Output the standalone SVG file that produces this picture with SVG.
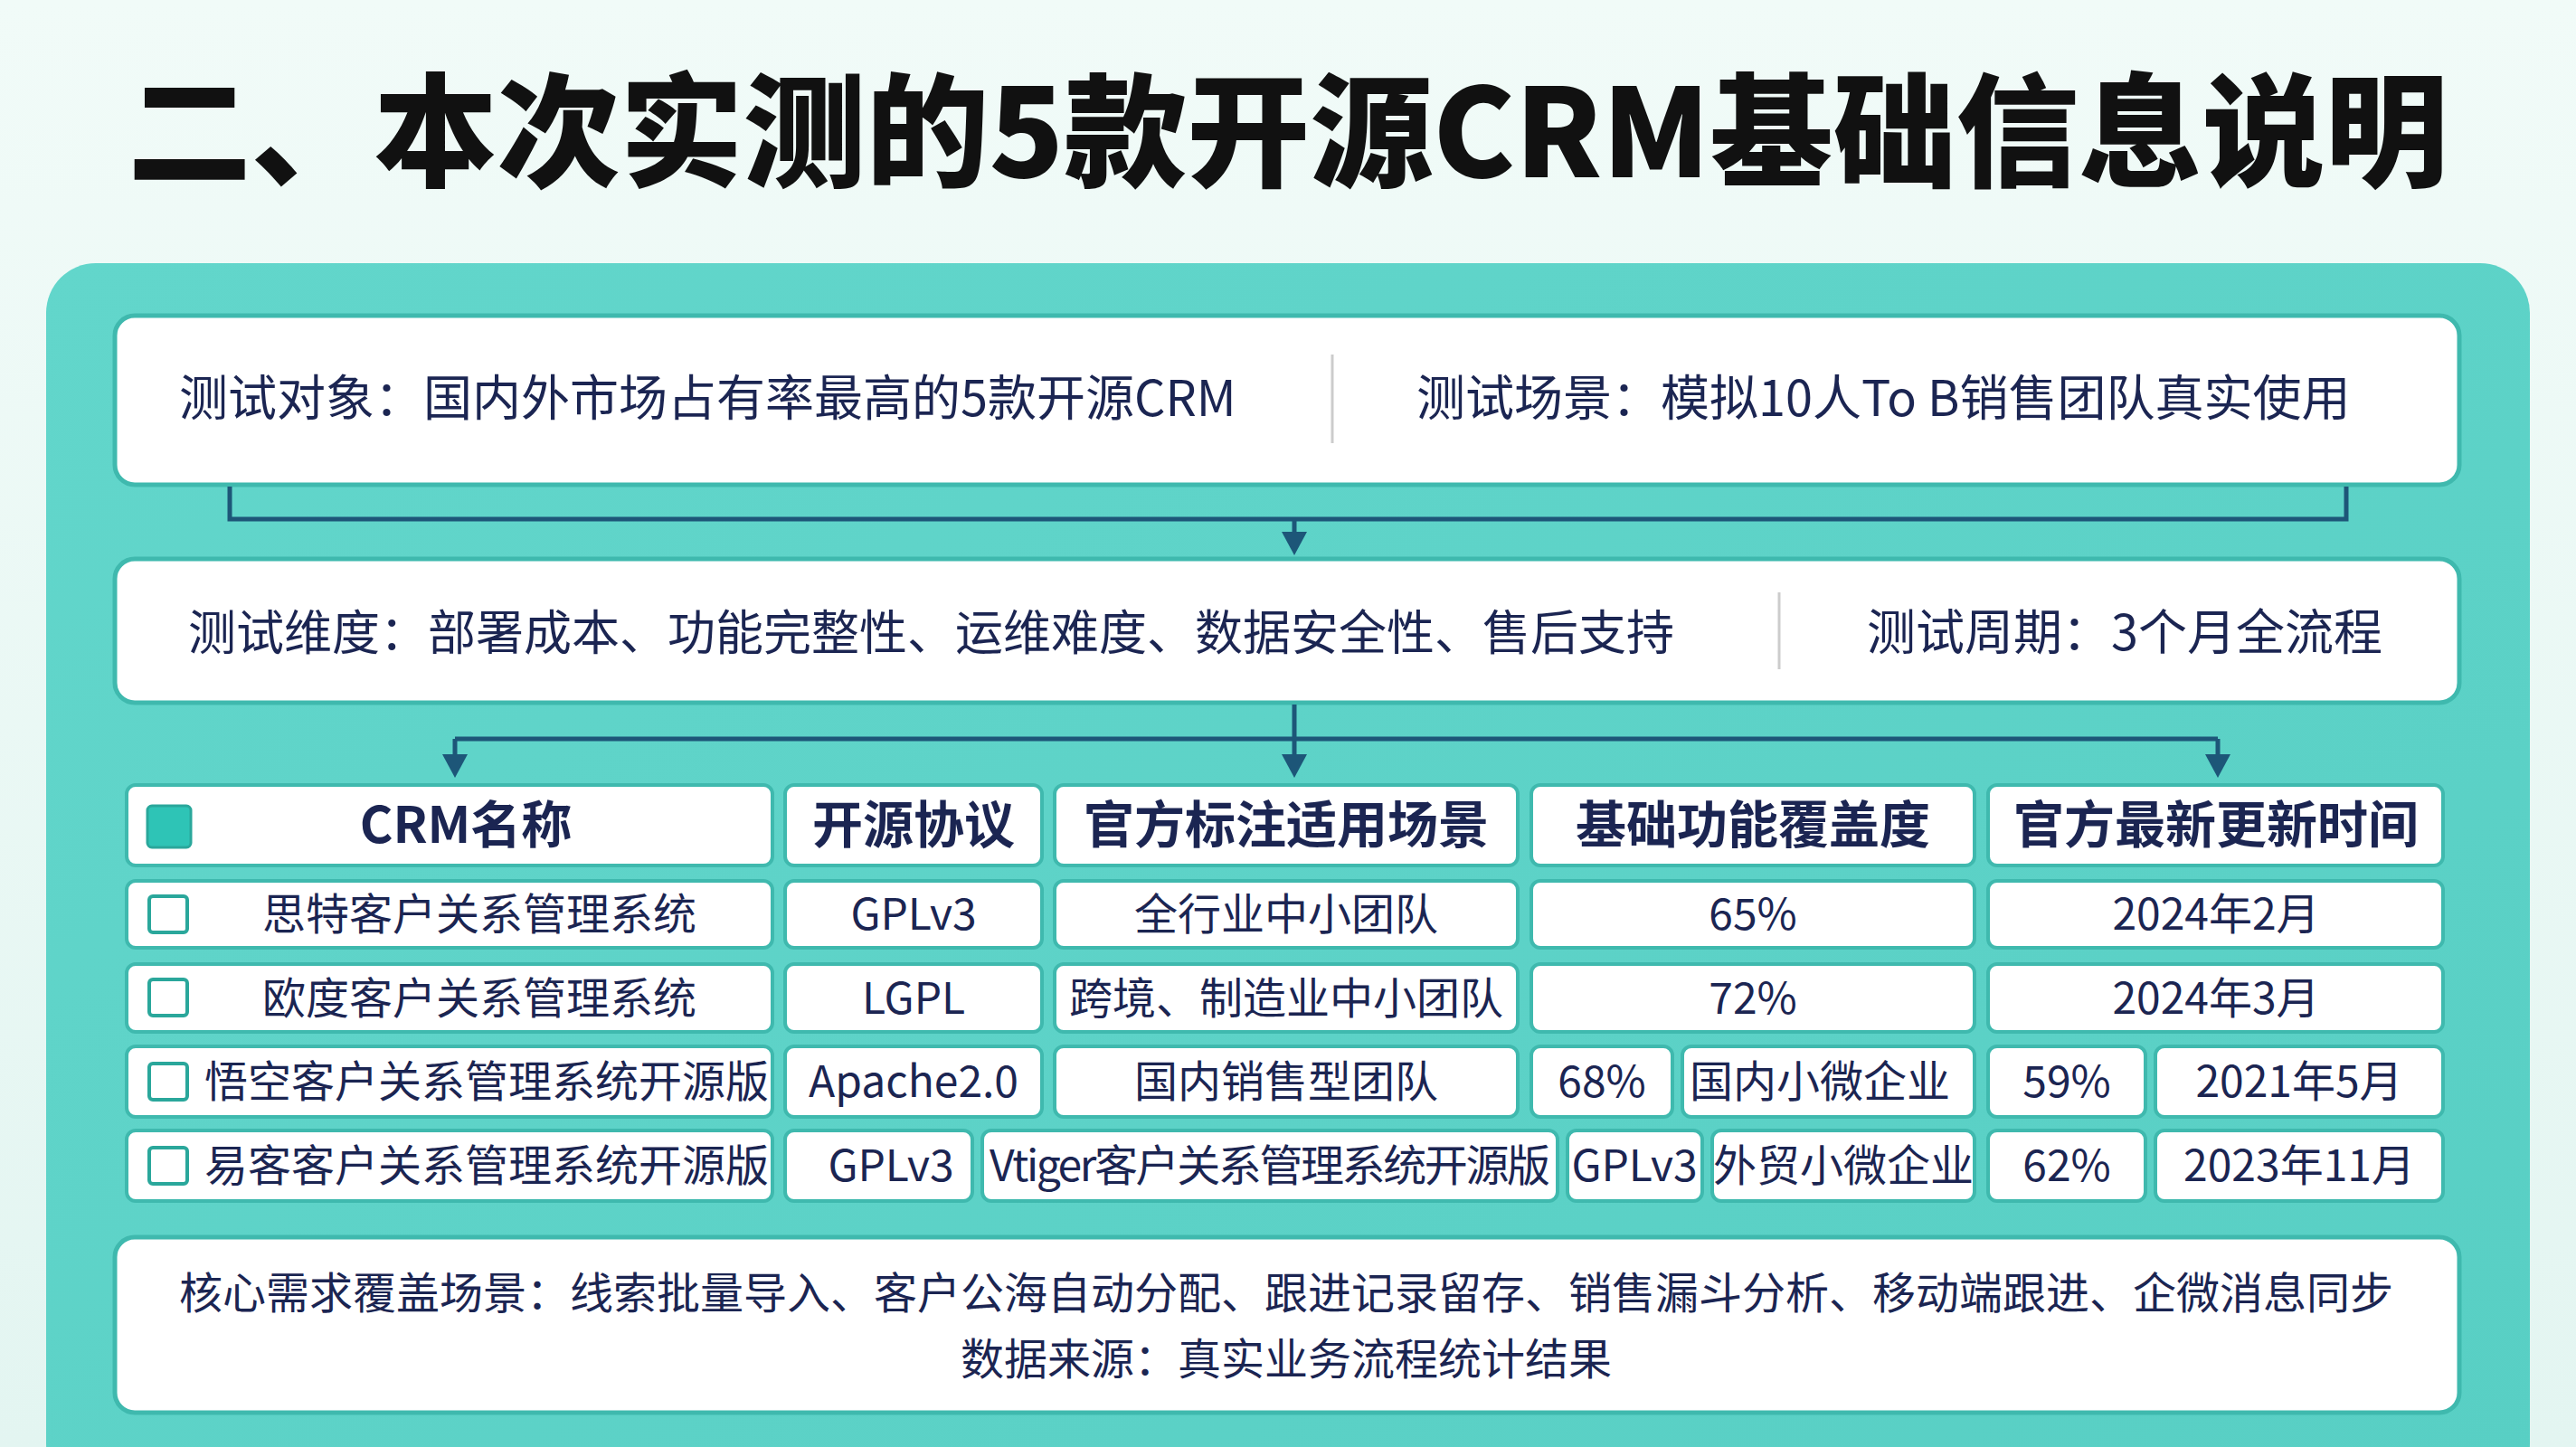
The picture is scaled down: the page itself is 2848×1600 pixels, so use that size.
<svg xmlns="http://www.w3.org/2000/svg" width="2848" height="1600" viewBox="0 0 2848 1600">
<defs>
<linearGradient id="bg" x1="0" y1="0" x2="0" y2="1"><stop offset="0" stop-color="#f1fbf8"/><stop offset="1" stop-color="#e3f5f1"/></linearGradient>
<linearGradient id="pn" x1="0" y1="0" x2="1" y2="1"><stop offset="0" stop-color="#62d6cb"/><stop offset="1" stop-color="#58cfc4"/></linearGradient>
<style>
.box{fill:#fff;stroke:#3fb9ae;stroke-width:5}
.cell{fill:#fff;stroke:#3fb9ae;stroke-width:4}
.t{font-family:"Noto Sans CJK SC","Noto Sans",sans-serif;fill:#1b2552}
.m{font-size:54px}
.h{font-size:56px;font-weight:700;text-anchor:middle}
.r{font-size:48px;text-anchor:middle}
.ln{fill:none;stroke:#1d5678;stroke-width:5}
.ah{fill:#1d5678}
</style>
</defs>
<rect width="2848" height="1600" fill="url(#bg)"/>
<text x="1424" y="196" font-family="Noto Sans CJK SC,sans-serif" font-size="136" font-weight="900" text-anchor="middle" fill="#111111">二、本次实测的5款开源CRM基础信息说明</text>
<rect x="51" y="291" width="2746" height="1360" rx="55" fill="url(#pn)"/>
<g id="box1"><rect class="box" x="127" y="349" width="2592" height="187" rx="22"/>
<text class="t m" x="198" y="460">测试对象：国内外市场占有率最高的5款开源CRM</text>
<line x1="1473" y1="392" x2="1473" y2="490" stroke="#ccc" stroke-width="3"/>
<text class="t m" x="1566" y="460">测试场景：模拟10人To B销售团队真实使用</text></g>
<g id="box2"><rect class="box" x="127" y="618" width="2592" height="159" rx="22"/>
<text class="t" font-size="53" x="208" y="719">测试维度：部署成本、功能完整性、运维难度、数据安全性、售后支持</text>
<line x1="1967" y1="655" x2="1967" y2="740" stroke="#ccc" stroke-width="3"/>
<text class="t m" x="2064" y="719">测试周期：3个月全流程</text></g>
<g id="connectors">
<path class="ln" d="M254,538 V574 H2594 V538" stroke="#2a7c8a"/>
<path class="ln" d="M1431,574 V592"/>
<polygon class="ah" points="1417,588 1445,588 1431,614"/>
<path class="ln" d="M1431,779 V817"/>
<path class="ln" d="M503,817 H2452"/>
<path class="ln" d="M503,817 V838"/>
<path class="ln" d="M1431,817 V838"/>
<path class="ln" d="M2452,817 V838"/>
<polygon class="ah" points="489,834 517,834 503,860"/>
<polygon class="ah" points="1417,834 1445,834 1431,860"/>
<polygon class="ah" points="2438,834 2466,834 2452,860"/>
</g>
<g id="header">
<rect class="cell" x="140" y="868" width="714" height="89" rx="10"/>
<rect x="163" y="891" width="48" height="46" rx="5" fill="#2ec4b6" stroke="#2aa79b" stroke-width="3"/>
<text class="t h" x="515" y="932">CRM名称</text>
<rect class="cell" x="868" y="868" width="284" height="89" rx="10"/><text class="t h" x="1010" y="932">开源协议</text>
<rect class="cell" x="1166" y="868" width="512" height="89" rx="10"/><text class="t h" x="1422" y="932">官方标注适用场景</text>
<rect class="cell" x="1693" y="868" width="490" height="89" rx="10"/><text class="t h" x="1938" y="932">基础功能覆盖度</text>
<rect class="cell" x="2198" y="868" width="503" height="89" rx="10"/><text class="t h" x="2450" y="932">官方最新更新时间</text>
</g>
<g id="row1">
<rect class="cell" x="140" y="974" width="714" height="74" rx="10"/>
<rect x="165" y="991" width="42" height="40" rx="4" fill="#fff" stroke="#2aa79b" stroke-width="4"/>
<text class="t r" x="530" y="1028">思特客户关系管理系统</text>
<rect class="cell" x="868" y="974" width="284" height="74" rx="10"/><text class="t r" x="1010" y="1028">GPLv3</text>
<rect class="cell" x="1166" y="974" width="512" height="74" rx="10"/><text class="t r" x="1422" y="1028">全行业中小团队</text>
<rect class="cell" x="1693" y="974" width="490" height="74" rx="10"/><text class="t r" x="1938" y="1028">65%</text>
<rect class="cell" x="2198" y="974" width="503" height="74" rx="10"/><text class="t r" x="2450" y="1028">2024年2月</text>
</g>
<g id="row2">
<rect class="cell" x="140" y="1066" width="714" height="75" rx="10"/>
<rect x="165" y="1083" width="42" height="40" rx="4" fill="#fff" stroke="#2aa79b" stroke-width="4"/>
<text class="t r" x="530" y="1121">欧度客户关系管理系统</text>
<rect class="cell" x="868" y="1066" width="284" height="75" rx="10"/><text class="t r" x="1010" y="1121">LGPL</text>
<rect class="cell" x="1166" y="1066" width="512" height="75" rx="10"/><text class="t r" x="1422" y="1121">跨境、制造业中小团队</text>
<rect class="cell" x="1693" y="1066" width="490" height="75" rx="10"/><text class="t r" x="1938" y="1121">72%</text>
<rect class="cell" x="2198" y="1066" width="503" height="75" rx="10"/><text class="t r" x="2450" y="1121">2024年3月</text>
</g>
<g id="row3">
<rect class="cell" x="140" y="1157" width="714" height="78" rx="10"/>
<rect x="165" y="1176" width="42" height="40" rx="4" fill="#fff" stroke="#2aa79b" stroke-width="4"/>
<text class="t r" x="538" y="1213" font-size="46">悟空客户关系管理系统开源版</text>
<rect class="cell" x="868" y="1157" width="284" height="78" rx="10"/><text class="t r" x="1010" y="1213">Apache2.0</text>
<rect class="cell" x="1166" y="1157" width="512" height="78" rx="10"/><text class="t r" x="1422" y="1213">国内销售型团队</text>
<rect class="cell" x="1693" y="1157" width="156" height="78" rx="10"/><text class="t r" x="1771" y="1213">68%</text>
<rect class="cell" x="1860" y="1157" width="323" height="78" rx="10"/><text class="t r" x="2012" y="1213" font-size="46">国内小微企业</text>
<rect class="cell" x="2198" y="1157" width="174" height="78" rx="10"/><text class="t r" x="2285" y="1213">59%</text>
<rect class="cell" x="2383" y="1157" width="318" height="78" rx="10"/><text class="t r" x="2542" y="1213">2021年5月</text>
</g>
<g id="row4">
<rect class="cell" x="140" y="1250" width="714" height="78" rx="10"/>
<rect x="165" y="1269" width="42" height="40" rx="4" fill="#fff" stroke="#2aa79b" stroke-width="4"/>
<text class="t r" x="538" y="1306" font-size="46">易客客户关系管理系统开源版</text>
<rect class="cell" x="868" y="1250" width="207" height="78" rx="10"/><text class="t r" x="985" y="1306">GPLv3</text>
<rect class="cell" x="1086" y="1250" width="636" height="78" rx="10"/><text class="t r" x="1404" y="1306" textLength="620">Vtiger客户关系管理系统开源版</text>
<rect class="cell" x="1733" y="1250" width="149" height="78" rx="10"/><text class="t r" x="1807" y="1306">GPLv3</text>
<rect class="cell" x="1893" y="1250" width="290" height="78" rx="10"/><text class="t r" x="2038" y="1306" font-size="46">外贸小微企业</text>
<rect class="cell" x="2198" y="1250" width="174" height="78" rx="10"/><text class="t r" x="2285" y="1306">62%</text>
<rect class="cell" x="2383" y="1250" width="318" height="78" rx="10"/><text class="t r" x="2542" y="1306">2023年11月</text>
</g>
<g id="box3"><rect class="box" x="127" y="1368" width="2592" height="194" rx="22"/>
<text class="t" font-size="48" x="1422" y="1447" text-anchor="middle">核心需求覆盖场景：线索批量导入、客户公海自动分配、跟进记录留存、销售漏斗分析、移动端跟进、企微消息同步</text>
<text class="t" font-size="48" x="1422" y="1520" text-anchor="middle">数据来源：真实业务流程统计结果</text></g>
</svg>
